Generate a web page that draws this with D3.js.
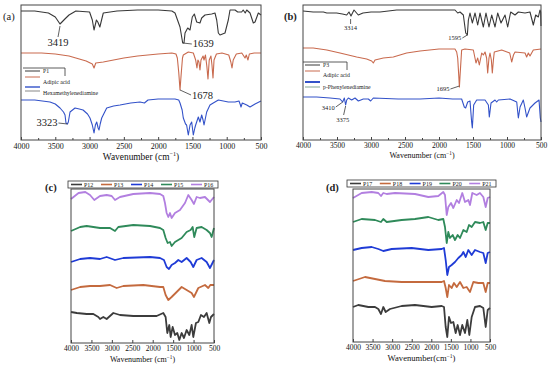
<!DOCTYPE html>
<html lang="en">
<head>
<meta charset="UTF-8">
<script src="https://cdn.jsdelivr.net/npm/d3@7"></script>
<title>FTIR spectra</title>
<style>
    body { margin: 0; background: #fff; }
    svg { display: block; font-family: "Liberation Serif", "Times New Roman", serif; }
</style>
</head>
<body>
<div id="container"></div>
<script>
/*------------------- data: [wavenumber, transmittance (a.u.)] -------------------*/
const tickLabels = [4000, 3500, 3000, 2500, 2000, 1500, 1000, 500];

// panel (a)
const p1 = [[4000,129],[3800,129],[3600,127],[3500,123],[3431,116],[3360,121],[3300,125],[3200,129],[3000,128],[2960,120],[2935,110],[2900,120],[2880,118],[2850,113],[2800,127],[2600,129],[2300,130],[2000,130],[1800,129],[1754,127],[1681,113],[1642,97],[1623,97],[1608,107],[1569,112],[1535,110],[1502,123],[1472,126],[1438,118],[1390,117],[1365,122],[1317,125],[1219,126],[1171,127],[1146,120],[1122,107],[1098,105],[1025,107],[977,120],[952,130],[879,130],[840,128],[782,128],[760,130],[730,127],[708,130],[660,127],[612,117],[587,118],[539,127],[500,125]];
const adipicA = [[4000,87],[3700,87],[3500,86],[3300,84],[3200,82],[3050,79],[2960,76],[2935,72],[2910,77],[2800,78],[2650,80],[2500,82],[2300,84],[2000,86],[1800,87],[1740,86],[1720,82],[1700,68],[1681,50],[1665,65],[1645,82],[1633,85],[1560,88],[1487,87],[1453,80],[1434,72],[1420,80],[1405,78],[1390,70],[1375,80],[1345,84],[1331,80],[1310,85],[1290,74],[1273,61],[1255,80],[1230,84],[1215,75],[1200,62],[1185,80],[1150,86],[1069,87],[970,85],[940,78],[923,72],[905,80],[860,86],[780,87],[733,82],[715,85],[690,80],[670,86],[600,87],[500,87]];
const hmda = [[4000,40],[3800,40],[3577,38],[3500,36],[3431,32],[3380,28],[3358,25],[3344,17],[3323,16],[3310,18],[3285,28],[3212,32],[3150,31],[3095,30],[3030,26],[2994,22],[2960,15],[2935,7],[2915,15],[2896,18],[2875,12],[2862,10],[2845,16],[2823,22],[2750,32],[2650,34],[2556,35],[2400,37],[2265,38],[2200,37],[2148,40],[2000,41],[1900,41],[1754,41],[1700,40],[1681,37],[1650,30],[1633,22],[1600,16],[1585,15],[1560,5],[1535,15],[1511,18],[1487,5],[1465,12],[1453,15],[1414,23],[1390,18],[1365,25],[1345,20],[1331,15],[1310,22],[1292,28],[1244,35],[1196,37],[1122,40],[1049,39],[977,38],[879,38],[821,39],[800,35],[792,33],[773,37],[740,36],[708,35],[660,33],[587,36],[500,39]];

// panel (b)
const p3 = [[4000,129],[3850,128],[3700,128],[3650,127],[3505,127],[3420,126],[3357,125],[3324,128],[3294,124],[3250,130],[3187,125],[3118,127],[3000,128],[2868,128],[2622,130],[2279,130],[1900,130],[1765,130],[1725,127],[1691,128],[1642,125],[1607,107],[1583,105],[1568,120],[1544,127],[1510,117],[1470,127],[1431,115],[1397,127],[1348,113],[1309,127],[1265,113],[1225,125],[1176,113],[1137,127],[1088,117],[1029,125],[990,113],[946,128],[882,125],[833,128],[735,127],[662,128],[613,115],[578,125],[539,123],[515,130],[505,128],[500,114]];
const adipicB = [[4000,92],[3850,92],[3650,90],[3456,87],[3211,83],[3064,81],[2990,79],[2966,77],[2941,80],[2819,82],[2672,83],[2476,87],[2279,89],[2000,91],[1765,91],[1740,88],[1725,82],[1710,65],[1700,53],[1690,65],[1667,90],[1618,91],[1495,90],[1456,77],[1431,82],[1407,75],[1372,87],[1348,85],[1323,88],[1300,82],[1284,67],[1265,82],[1250,87],[1230,80],[1216,67],[1200,80],[1187,88],[1078,90],[960,87],[931,78],[905,85],[882,88],[735,87],[711,83],[686,87],[662,84],[613,90],[500,91]];
const ppd = [[4000,43],[3800,43],[3603,42],[3456,41],[3417,38],[3392,42],[3373,35],[3357,40],[3333,42],[3284,40],[3235,42],[3186,39],[3113,41],[3039,41],[3005,39],[2966,42],[2600,41],[2279,41],[2000,42],[1800,41],[1667,41],[1628,33],[1608,32],[1578,38],[1544,39],[1520,18],[1510,12],[1490,35],[1446,40],[1323,40],[1274,35],[1260,23],[1235,37],[1176,40],[1152,38],[1127,40],[955,41],[857,38],[833,22],[808,33],[760,40],[735,32],[711,23],[662,32],[588,37],[529,40],[510,22],[500,18]];

// panel (c)
const p12 = [[4000,31],[3857,30],[3617,29],[3454,29],[3331,26],[3290,24],[3209,26],[3127,24],[2964,30],[2801,28],[2475,27],[1904,27],[1741,30],[1684,26],[1643,10],[1594,18],[1561,6],[1512,16],[1455,8],[1398,10],[1349,3],[1292,10],[1235,5],[1170,13],[1104,8],[1047,18],[1007,6],[942,20],[884,21],[819,28],[746,26],[680,30],[615,20],[574,26],[500,29]];
const p13 = [[4000,53],[3776,56],[3535,57],[3290,57],[3045,58],[2882,55],[2720,57],[2230,58],[1822,56],[1741,56],[1684,48],[1618,43],[1537,46],[1414,51],[1292,56],[1170,53],[1047,50],[991,46],[884,55],[721,58],[640,55],[590,58],[500,58]];
const p14 = [[4000,81],[3776,84],[3535,85],[3290,84],[3127,86],[2923,83],[2720,85],[2066,86],[1822,85],[1725,83],[1659,76],[1602,74],[1537,78],[1455,80],[1374,83],[1292,81],[1170,85],[1072,81],[1007,76],[925,83],[803,85],[680,81],[599,75],[500,83]];
const p15 = [[4000,112],[3776,116],[3617,117],[3290,115],[3045,115],[2923,112],[2842,116],[2475,118],[2066,117],[1822,115],[1741,113],[1684,105],[1635,100],[1577,101],[1537,97],[1455,101],[1292,105],[1170,111],[1072,113],[1023,116],[983,106],[925,115],[803,116],[680,113],[599,110],[558,106],[500,115]];
const p16 = [[4000,144],[3815,150],[3650,151],[3535,148],[3430,143],[3290,147],[3127,148],[3004,147],[2923,143],[2801,146],[2475,149],[2066,150],[1822,149],[1741,147],[1700,140],[1659,130],[1618,126],[1577,130],[1537,125],[1455,130],[1333,133],[1210,140],[1129,148],[1047,143],[991,139],[925,146],[844,145],[721,146],[599,141],[500,146]];

// panel (d)
const p17 = [[4000,35],[3865,37],[3608,35],[3438,35],[3353,33],[3285,28],[3226,35],[3165,30],[3055,33],[2757,36],[2416,37],[1991,35],[1734,36],[1675,35],[1632,15],[1591,5],[1548,25],[1496,19],[1437,20],[1377,9],[1326,17],[1266,7],[1208,17],[1139,9],[1079,22],[1028,7],[968,25],[883,35],[756,36],[671,34],[610,15],[559,32],[500,34]];
const p18 = [[4000,61],[3693,65],[3438,63],[3183,61],[2757,60],[2161,60],[1734,60],[1675,61],[1632,54],[1591,45],[1548,57],[1480,54],[1420,59],[1350,55],[1266,60],[1181,54],[1096,55],[1011,50],[926,60],[798,59],[671,59],[610,50],[559,59],[500,59]];
const p19 = [[4000,92],[3778,94],[3522,95],[3353,93],[3226,91],[3012,93],[2501,94],[2076,92],[1734,93],[1675,94],[1632,82],[1591,67],[1548,75],[1480,77],[1394,80],[1309,84],[1224,87],[1181,90],[1120,85],[1054,92],[968,87],[883,92],[756,90],[671,89],[610,79],[559,89],[500,90]];
const p20 = [[4000,120],[3778,123],[3438,122],[3285,120],[3226,123],[3139,120],[2757,122],[2416,123],[2076,125],[1821,122],[1693,123],[1650,115],[1606,99],[1565,110],[1522,104],[1454,107],[1394,102],[1326,107],[1266,104],[1181,112],[1096,110],[1036,117],[968,115],[883,120],[756,119],[671,120],[610,112],[559,119],[500,119]];
const p21 = [[4000,144],[3778,149],[3522,150],[3353,149],[3285,146],[3226,149],[3139,148],[2927,149],[2416,148],[2076,145],[1821,146],[1693,150],[1650,147],[1606,127],[1565,135],[1496,139],[1437,134],[1350,142],[1292,139],[1208,149],[1139,140],[1054,142],[1011,137],[952,149],[840,147],[756,149],[671,145],[610,135],[559,144],[500,145]];

// peak labels: [text, wavenumber, value at peak]
const peaksA = [["3419", 3431, 115], ["1639", 1640, 97], ["1678", 1681, 50], ["3323", 3323, 16]];
const peaksB = [["3314", 3300, 122], ["1595", 1583, 105], ["1695", 1700, 54], ["3410", 3415, 38], ["3375", 3373, 35]];

/*------------------- colours -------------------*/
const dark = "#383838", red = "#c96a4e", blue = "#3352c9";
const sampleColors = ["#3c3c3c", "#c46a3e", "#1f3bd6", "#2f8a5a", "#b27fe0"];

/*------------------- panel settings -------------------*/
const panels = [
    { tag: "(a)", tagX: 3, tagY: 20, x0: 21, x1: 261, y0: 5, y1: 140, lw: 1.1,
      series: [[p1, dark], [adipicA, red], [hmda, blue]],
      tickFont: 8, titleFont: 9.4, title: "Wavenumber (cm", titleY: 160, minor: true },
    { tag: "(b)", tagX: 284, tagY: 20, x0: 303, x1: 541, y0: 5, y1: 140, lw: 1.1,
      series: [[p3, dark], [adipicB, red], [ppd, blue]],
      tickFont: 7.5, titleFont: 8, title: "Wavenumber (cm", titleY: 158, minor: true },
    { tag: "(c)", tagX: 45, tagY: 191, x0: 71, x1: 214, y0: 189, y1: 343, lw: 1.8,
      series: [[p12, sampleColors[0]], [p13, sampleColors[1]], [p14, sampleColors[2]], [p15, sampleColors[3]], [p16, sampleColors[4]]],
      names: ["P12", "P13", "P14", "P15", "P16"], legend: [68, 218, 181],
      tickFont: 7.5, titleFont: 8, title: "Wavenumber (cm", titleY: 362, minor: false },
    { tag: "(d)", tagX: 326, tagY: 191, x0: 353, x1: 490, y0: 189, y1: 342, lw: 1.8,
      series: [[p17, sampleColors[0]], [p18, sampleColors[1]], [p19, sampleColors[2]], [p20, sampleColors[3]], [p21, sampleColors[4]]],
      names: ["P17", "P18", "P19", "P20", "P21"], legend: [347, 496, 180],
      tickFont: 7.5, titleFont: 8.6, title: "Wavenumber(cm", titleY: 361, minor: false }
];

const svg = d3.select("#container").append("svg")
    .attr("width", 550)
    .attr("height", 366)
    .attr("viewBox", "0 0 550 366");

const scales = [];

panels.forEach(p => {
    const x = d3.scaleLinear().domain([4000, 500]).range([p.x0, p.x1]);
    const y = d3.scaleLinear().domain([0, p.y1 - p.y0]).range([p.y1, p.y0]);
    scales.push({ x, y });
    const line = d3.line().x(d => x(d[0])).y(d => y(d[1]));
    const g = svg.append("g");

    p.series.forEach(s => {
        g.append("path")
            .attr("d", line(s[0]))
            .attr("fill", "none")
            .attr("stroke", s[1])
            .attr("stroke-width", p.lw)
            .attr("stroke-linejoin", "round");
    });

    // frame
    g.append("rect")
        .attr("x", p.x0).attr("y", p.y0)
        .attr("width", p.x1 - p.x0).attr("height", p.y1 - p.y0)
        .attr("fill", "none").attr("stroke", "#444").attr("stroke-width", 1);

    // bottom axis, ticks pointing in
    const ax = g.append("g")
        .attr("transform", `translate(0,${p.y1})`)
        .call(d3.axisBottom(x).tickValues(tickLabels).tickFormat(d3.format("d"))
            .tickSizeInner(-3).tickSizeOuter(0).tickPadding(3));
    ax.select(".domain").remove();
    ax.selectAll("line").attr("stroke", "#444");
    ax.selectAll("text")
        .attr("font-family", "Liberation Serif, serif")
        .attr("font-size", p.tickFont)
        .attr("fill", "#111");
    if (p.minor) {
        const mx = g.append("g")
            .attr("transform", `translate(0,${p.y1})`)
            .call(d3.axisBottom(x).tickValues(d3.range(750, 4000, 500)).tickFormat("")
                .tickSizeInner(-2).tickSizeOuter(0));
        mx.select(".domain").remove();
        mx.selectAll("line").attr("stroke", "#444");
    }

    // axis title with superscript
    const t = g.append("text")
        .attr("x", (p.x0 + p.x1) / 2)
        .attr("y", p.titleY)
        .attr("text-anchor", "middle")
        .attr("font-size", p.titleFont)
        .attr("fill", "#111");
    t.append("tspan").text(p.title);
    t.append("tspan").text("\u22121").attr("dy", -p.titleFont * 0.4).attr("font-size", p.titleFont * 0.65);
    t.append("tspan").text(")").attr("dy", p.titleFont * 0.4);

    // panel tag
    g.append("text")
        .attr("x", p.tagX).attr("y", p.tagY)
        .attr("font-size", 10.5)
        .attr("font-weight", p.tag === "(a)" ? "normal" : "bold")
        .attr("fill", "#222")
        .text(p.tag);

    // legend row for (c) and (d)
    if (p.legend) {
        const [lx0, lx1, ly] = p.legend;
        g.append("rect")
            .attr("x", lx0).attr("y", ly)
            .attr("width", lx1 - lx0).attr("height", 7)
            .attr("fill", "#fff").attr("stroke", "#333").attr("stroke-width", 0.8);
        const step = (lx1 - lx0) / p.names.length;
        p.names.forEach((n, i) => {
            const sx = lx0 + 3 + i * step;
            g.append("line")
                .attr("x1", sx).attr("x2", sx + 11)
                .attr("y1", ly + 3.5).attr("y2", ly + 3.5)
                .attr("stroke", p.series[i][1]).attr("stroke-width", 1.6);
            g.append("text")
                .attr("x", sx + 13).attr("y", ly + 5.8)
                .attr("font-size", 6).attr("fill", "#222")
                .text(n);
        });
    }
});

/*------------------- legends for (a) and (b) -------------------*/
function smallLegend(bx0, bx1, by, rows) {
    svg.append("path")
        .attr("d", `M${bx0},${by}H${bx1}V${by + 8}`)
        .attr("fill", "none").attr("stroke", "#333").attr("stroke-width", 0.8);
    rows.forEach(r => {
        svg.append("line")
            .attr("x1", bx0 + 2).attr("x2", bx0 + 17)
            .attr("y1", r.ly).attr("y2", r.ly)
            .attr("stroke", r.color).attr("stroke-width", r.w || 1);
        if (r.text) {
            svg.append("text")
                .attr("x", bx0 + 20).attr("y", r.ty)
                .attr("font-size", 5.8).attr("fill", "#222")
                .text(r.text);
        }
    });
}
smallLegend(23, 65, 68, [
    { ly: 71, ty: 73, color: dark, text: "P1" },
    { ly: 77, ty: 84, color: red, text: "Adipic acid" },
    { ly: 87, ty: 95, color: blue, text: "Hexamethylenediamine", w: 1.4 },
    { ly: 91, color: dark, w: 0.6 }
]);
smallLegend(303, 347, 62, [
    { ly: 65, ty: 67, color: dark, text: "P3" },
    { ly: 71, ty: 77, color: red, text: "Adipic acid" },
    { ly: 82, ty: 89, color: blue, text: "p-Phenylenediamine", w: 2 },
    { ly: 87, color: "#2f6a4a", w: 0.6 }
]);

/*------------------- peak labels -------------------*/
// offsets of each label from its peak: [line end dx, dy, text dx, dy, anchor]
const offA = [[-2, 12, -2, 21, "middle"], [9, 1, 10, 4, "start"], [11, 5, 12, 9, "start"], [-9, -1, -10, 2, "end"]];
const offB = [[0, 6, 0, 12, "middle"], [-5, 3, -6, 5, "end"], [-9, 3, -10, 5, "end"], [-7, 5, -8, 8, "end"], [-2, 10, -3, 17, "middle"]];

function peakLabels(list, offs, sc, fs, col) {
    list.forEach((pk, i) => {
        const px = sc.x(pk[1]), py = sc.y(pk[2]);
        const o = offs[i];
        svg.append("line")
            .attr("x1", px).attr("y1", py + (o[4] === "middle" ? 1 : 0))
            .attr("x2", px + o[0]).attr("y2", py + o[1])
            .attr("stroke", col).attr("stroke-width", 0.8);
        svg.append("text")
            .attr("x", px + o[2]).attr("y", py + o[3])
            .attr("text-anchor", o[4])
            .attr("font-size", fs).attr("fill", "#222")
            .text(pk[0]);
    });
}
peakLabels(peaksA, offA, scales[0], 10.5, dark);
peakLabels(peaksB, offB, scales[1], 6.5, dark);
</script>
</body>
</html>
